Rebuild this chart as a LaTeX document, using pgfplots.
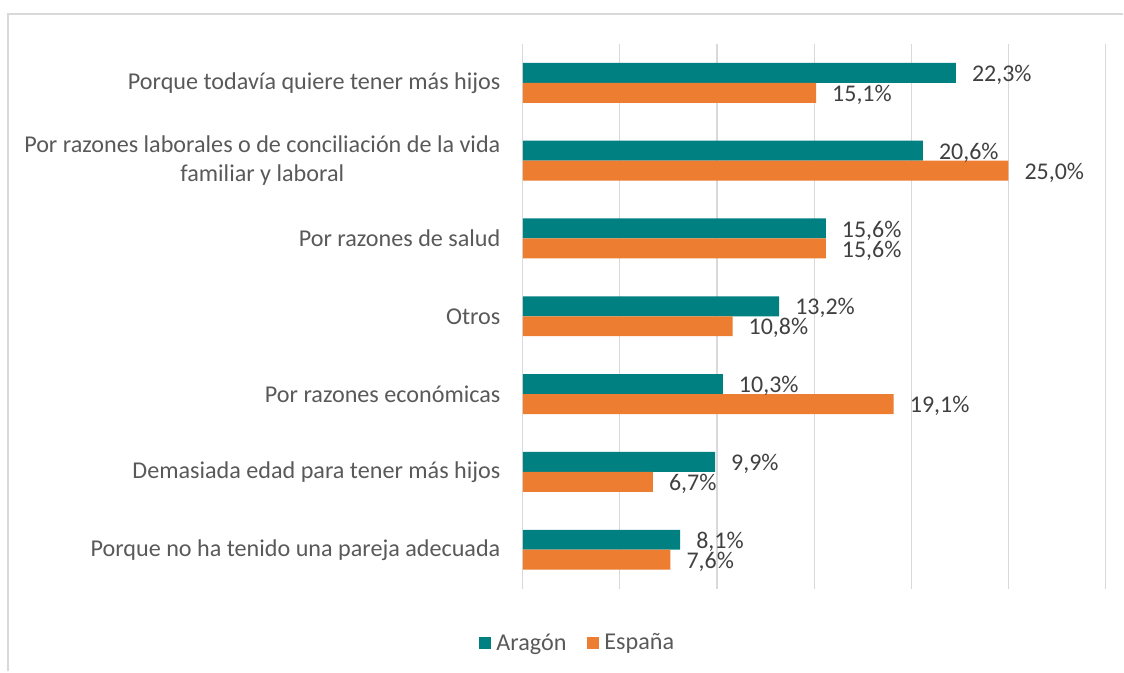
\documentclass[border=0pt]{standalone}
\usepackage{pgfplots}
\pgfplotsset{compat=1.18}
\usepackage{fontspec}
\setmainfont{Carlito}
\definecolor{aragon}{HTML}{008080}
\definecolor{espana}{HTML}{ED7D31}
\definecolor{txt}{HTML}{595959}
\definecolor{lbl}{HTML}{404040}
\definecolor{gridc}{HTML}{D9D9D9}
\begin{document}
\begin{tikzpicture}[x=1pt,y=1pt]
\path (0,0) rectangle (1124,671);
\draw[gridc, line width=1.2pt] (8,-2) -- (8,657) -- (1126,657);
\begin{axis}[
  at={(524pt,81pt)}, anchor=south west,
  scale only axis, width=584pt, height=546pt,
  xbar, xmin=0, xmax=30, ymin=0.5, ymax=7.5,
  bar width=20pt,
  clip=false,
  /pgf/number format/assume math mode=true,
  xtick={0,5,...,30}, xticklabels={},
  xmajorgrids, major grid style={gridc, line width=1.2pt},
  axis line style={draw=none}, tick style={draw=none},
  ytick={1,...,7},
  yticklabels={Porque no ha tenido una pareja adecuada,
    Demasiada edad para tener más hijos,
    Por razones económicas,
    Otros,
    Por razones de salud,
    {Por razones laborales o de conciliación de la vida\\familiar y laboral},
    Porque todavía quiere tener más hijos},
  yticklabel style={font=\fontsize{24.2}{29}\selectfont, text=txt, align=center, inner sep=0pt, xshift=-18pt},
  nodes near coords={\pgfmathprintnumber[fixed, fixed zerofill, precision=1, use comma]{\pgfplotspointmeta}\%},
  nodes near coords style={anchor=west, inner sep=0pt, xshift=16pt, yshift=-2pt, font=\fontsize{24}{28}\selectfont, text=lbl},
  legend columns=2,
  legend style={at={(0.0935,-0.0989)}, anchor=center, draw=none, fill=none,
    font=\fontsize{24.2}{28}\selectfont, text=txt,
    nodes={inner sep=1pt},
    /tikz/every even column/.append style={column sep=20pt}},
  legend image code/.code={\draw[#1,draw=none] (0pt,-6pt) rectangle (12pt,6pt); \path (16pt,0pt);},
]
\addplot[fill=aragon, draw=none, bar shift=10pt] coordinates {
  (22.3,7) (20.6,6) (15.6,5) (13.2,4) (10.3,3) (9.9,2) (8.1,1)};
\addlegendentry{Aragón}
\addplot[fill=espana, draw=none, bar shift=-10pt] coordinates {
  (15.1,7) (25.0,6) (15.6,5) (10.8,4) (19.1,3) (6.7,2) (7.6,1)};
\addlegendentry{España}
\end{axis}
\end{tikzpicture}
\end{document}
